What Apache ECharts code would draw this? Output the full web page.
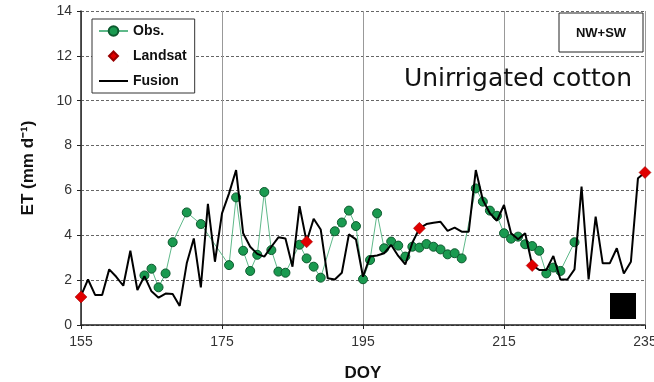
<!DOCTYPE html>
<html>
<head>
<meta charset="utf-8">
<script src="https://cdn.jsdelivr.net/npm/echarts@6/dist/echarts.min.js"></script>
<style>
  html, body { margin: 0; padding: 0; background: #fff; }
  #chart { width: 654px; height: 382px; }
</style>
</head>
<body>
<div id="chart"></div>
<script>
// ET daily, unirrigated cotton (NW+SW)
const fusionDays = [155, 156, 157, 158, 159, 160, 161, 162, 163, 164, 165, 166, 167, 168, 169, 170,
  171, 172, 173, 174, 175, 176, 177, 178, 179, 180, 181, 182, 183, 184, 185, 186, 187, 188, 189, 190,
  191, 192, 193, 194, 195, 196, 197, 198, 199, 200, 201, 202, 203, 204, 205, 206, 207, 208, 209, 210,
  211, 212, 213, 214, 215, 216, 217, 218, 219, 220, 221, 222, 223, 224, 225, 226, 227, 228, 229, 230,
  231, 232, 233, 234, 235];
const fusionET = [1.3, 2.03, 1.34, 1.34, 2.48, 2.15, 1.75, 3.31, 1.56, 2.18, 1.5, 1.22, 1.4, 1.38, 0.85, 2.75,
  3.86, 1.68, 5.4, 2.82, 4.98, 5.87, 6.91, 4.09, 3.49, 3.17, 3.05, 3.49, 3.91, 3.86, 2.6, 5.3, 3.71, 4.74, 4.26, 2.08,
  2.03, 2.33, 4.04, 3.82, 2.15, 3.05, 3.1, 3.2, 3.57, 3.08, 2.7, 3.67, 4.31, 4.5, 4.56, 4.6, 4.2, 4.34, 4.16, 4.16,
  6.91, 5.57, 4.98, 4.65, 5.35, 4.09, 3.82, 4.09, 2.67, 2.45, 2.45, 3.08, 2.03, 2.03, 2.48, 6.17, 2.03, 4.83, 2.75, 2.75,
  3.42, 2.3, 2.82, 6.54, 6.8];

const obsDays = [164, 165, 166, 167, 168, 170, 172, 176, 177, 178, 179, 180, 181, 182, 183, 184, 186, 187, 188, 189,
  191, 192, 193, 194, 195, 196, 197, 198, 199, 200, 201, 202, 203, 204, 205, 206, 207, 208, 209,
  211, 212, 213, 214, 215, 216, 217, 218, 219, 220, 221, 222, 223, 225];
const obsET = [2.21, 2.51, 1.68, 2.3, 3.69, 5.02, 4.5, 2.67, 5.69, 3.31, 2.41, 3.13, 5.93, 3.34, 2.38, 2.33, 3.58, 2.97, 2.6, 2.11,
  4.18, 4.57, 5.1, 4.41, 2.04, 2.9, 4.98, 3.42, 3.72, 3.54, 3.05, 3.49, 3.45, 3.61, 3.49, 3.37, 3.15, 3.2, 2.97,
  6.09, 5.5, 5.1, 4.87, 4.09, 3.85, 3.94, 3.6, 3.52, 3.31, 2.3, 2.56, 2.41, 3.69];

const landsatDays = [155, 187, 203, 219, 235];
const landsatET = [1.25, 3.71, 4.31, 2.65, 6.8];

const zip = (xs, ys) => xs.map((x, i) => [x, ys[i]]);

const tickFont = "'Liberation Sans Narrow', 'Arial Narrow', 'Liberation Sans', sans-serif";
const boldFont = 'Liberation Sans, Arial, sans-serif';

// legend icons: small diamond / thin line inside a 29x12 box
const diamondIcon = 'path://M0,0L0.01,0M14.5,1.5L19,6L14.5,10.5L10,6ZM29,12L28.99,12';
const lineIcon = 'path://M0,0L0.01,0M0,5L29,5L29,7L0,7ZM29,12L28.99,12';

const myChart = echarts.init(document.getElementById('chart'));

const option = {
  animation: false,
  backgroundColor: '#fff',
  grid: { left: 81, right: 9, top: 11, bottom: 57, outerBoundsMode: 'none' },
  legend: {
    left: 92,
    top: 19,
    orient: 'vertical',
    backgroundColor: '#fff',
    borderColor: '#333',
    borderWidth: 1,
    borderRadius: 0,
    padding: [5, 8, 5, 6],
    itemWidth: 29,
    itemHeight: 12,
    itemGap: 11,
    textStyle: { fontFamily: boldFont, fontWeight: 'bold', fontSize: 14, color: '#111' },
    data: [
      { name: 'Obs.' },
      { name: 'Landsat', icon: diamondIcon },
      { name: 'Fusion', icon: lineIcon }
    ]
  },
  xAxis: {
    type: 'value',
    min: 155,
    max: 235,
    interval: 20,
    name: 'DOY',
    nameLocation: 'middle',
    nameGap: 40,
    nameTextStyle: { fontFamily: boldFont, fontWeight: 'bold', fontSize: 17, color: '#111' },
    axisLine: { lineStyle: { color: '#222', width: 1.5 } },
    axisTick: { show: true, length: 4, lineStyle: { color: '#222' } },
    axisLabel: { margin: 10, fontFamily: tickFont, fontSize: 14, color: '#333' },
    splitLine: { show: true, lineStyle: { color: '#999', width: 1, type: 'solid' } }
  },
  yAxis: {
    type: 'value',
    min: 0,
    max: 14,
    interval: 2,
    name: 'ET (mm d\u207B\u00B9)',
    nameLocation: 'middle',
    nameGap: 44,
    nameTextStyle: { fontFamily: boldFont, fontWeight: 'bold', fontSize: 17, color: '#111' },
    axisLine: { show: true, lineStyle: { color: '#222', width: 1.5 } },
    axisTick: { show: true, length: 4, lineStyle: { color: '#222' } },
    axisLabel: { margin: 9, fontFamily: tickFont, fontSize: 14, color: '#333' },
    splitLine: { show: true, lineStyle: { color: '#666', width: 1, type: [3, 2] } }
  },
  series: [
    {
      name: 'Obs.',
      type: 'line',
      data: zip(obsDays, obsET),
      symbol: 'circle',
      symbolSize: 9,
      lineStyle: { color: '#5fb98a', width: 1 },
      itemStyle: { color: '#1a9a50', borderColor: '#0e5a2f', borderWidth: 1 },
      z: 2
    },
    {
      name: 'Fusion',
      type: 'line',
      data: zip(fusionDays, fusionET),
      symbol: 'none',
      lineStyle: { color: '#000', width: 2 },
      itemStyle: { color: '#000' },
      z: 3
    },
    {
      name: 'Landsat',
      type: 'scatter',
      data: zip(landsatDays, landsatET),
      symbol: 'diamond',
      symbolSize: 12,
      itemStyle: { color: '#e00000', borderColor: '#990000', borderWidth: 0.5, opacity: 1 },
      z: 4
    }
  ],
  graphic: [
    {
      type: 'rect',
      shape: { x: 559, y: 13, width: 84, height: 39 },
      style: { fill: '#fff', stroke: '#222', lineWidth: 1 },
      z: 10
    },
    {
      type: 'text',
      x: 601,
      y: 33,
      style: {
        text: 'NW+SW',
        fontFamily: boldFont,
        fontWeight: 'bold',
        fontSize: 13,
        fill: '#111',
        align: 'center',
        verticalAlign: 'middle'
      },
      z: 11
    },
    {
      type: 'text',
      x: 632,
      y: 79,
      style: {
        text: 'Unirrigated cotton',
        fontFamily: 'DejaVu Sans, sans-serif',
        fontSize: 25,
        fill: '#111',
        align: 'right',
        verticalAlign: 'middle'
      },
      z: 11
    },
    {
      type: 'rect',
      shape: { x: 610, y: 293, width: 26, height: 26 },
      style: { fill: '#000' },
      z: 11
    }
  ]
};
myChart.setOption(option);
window.addEventListener('resize', myChart.resize);
</script>
</body>
</html>
